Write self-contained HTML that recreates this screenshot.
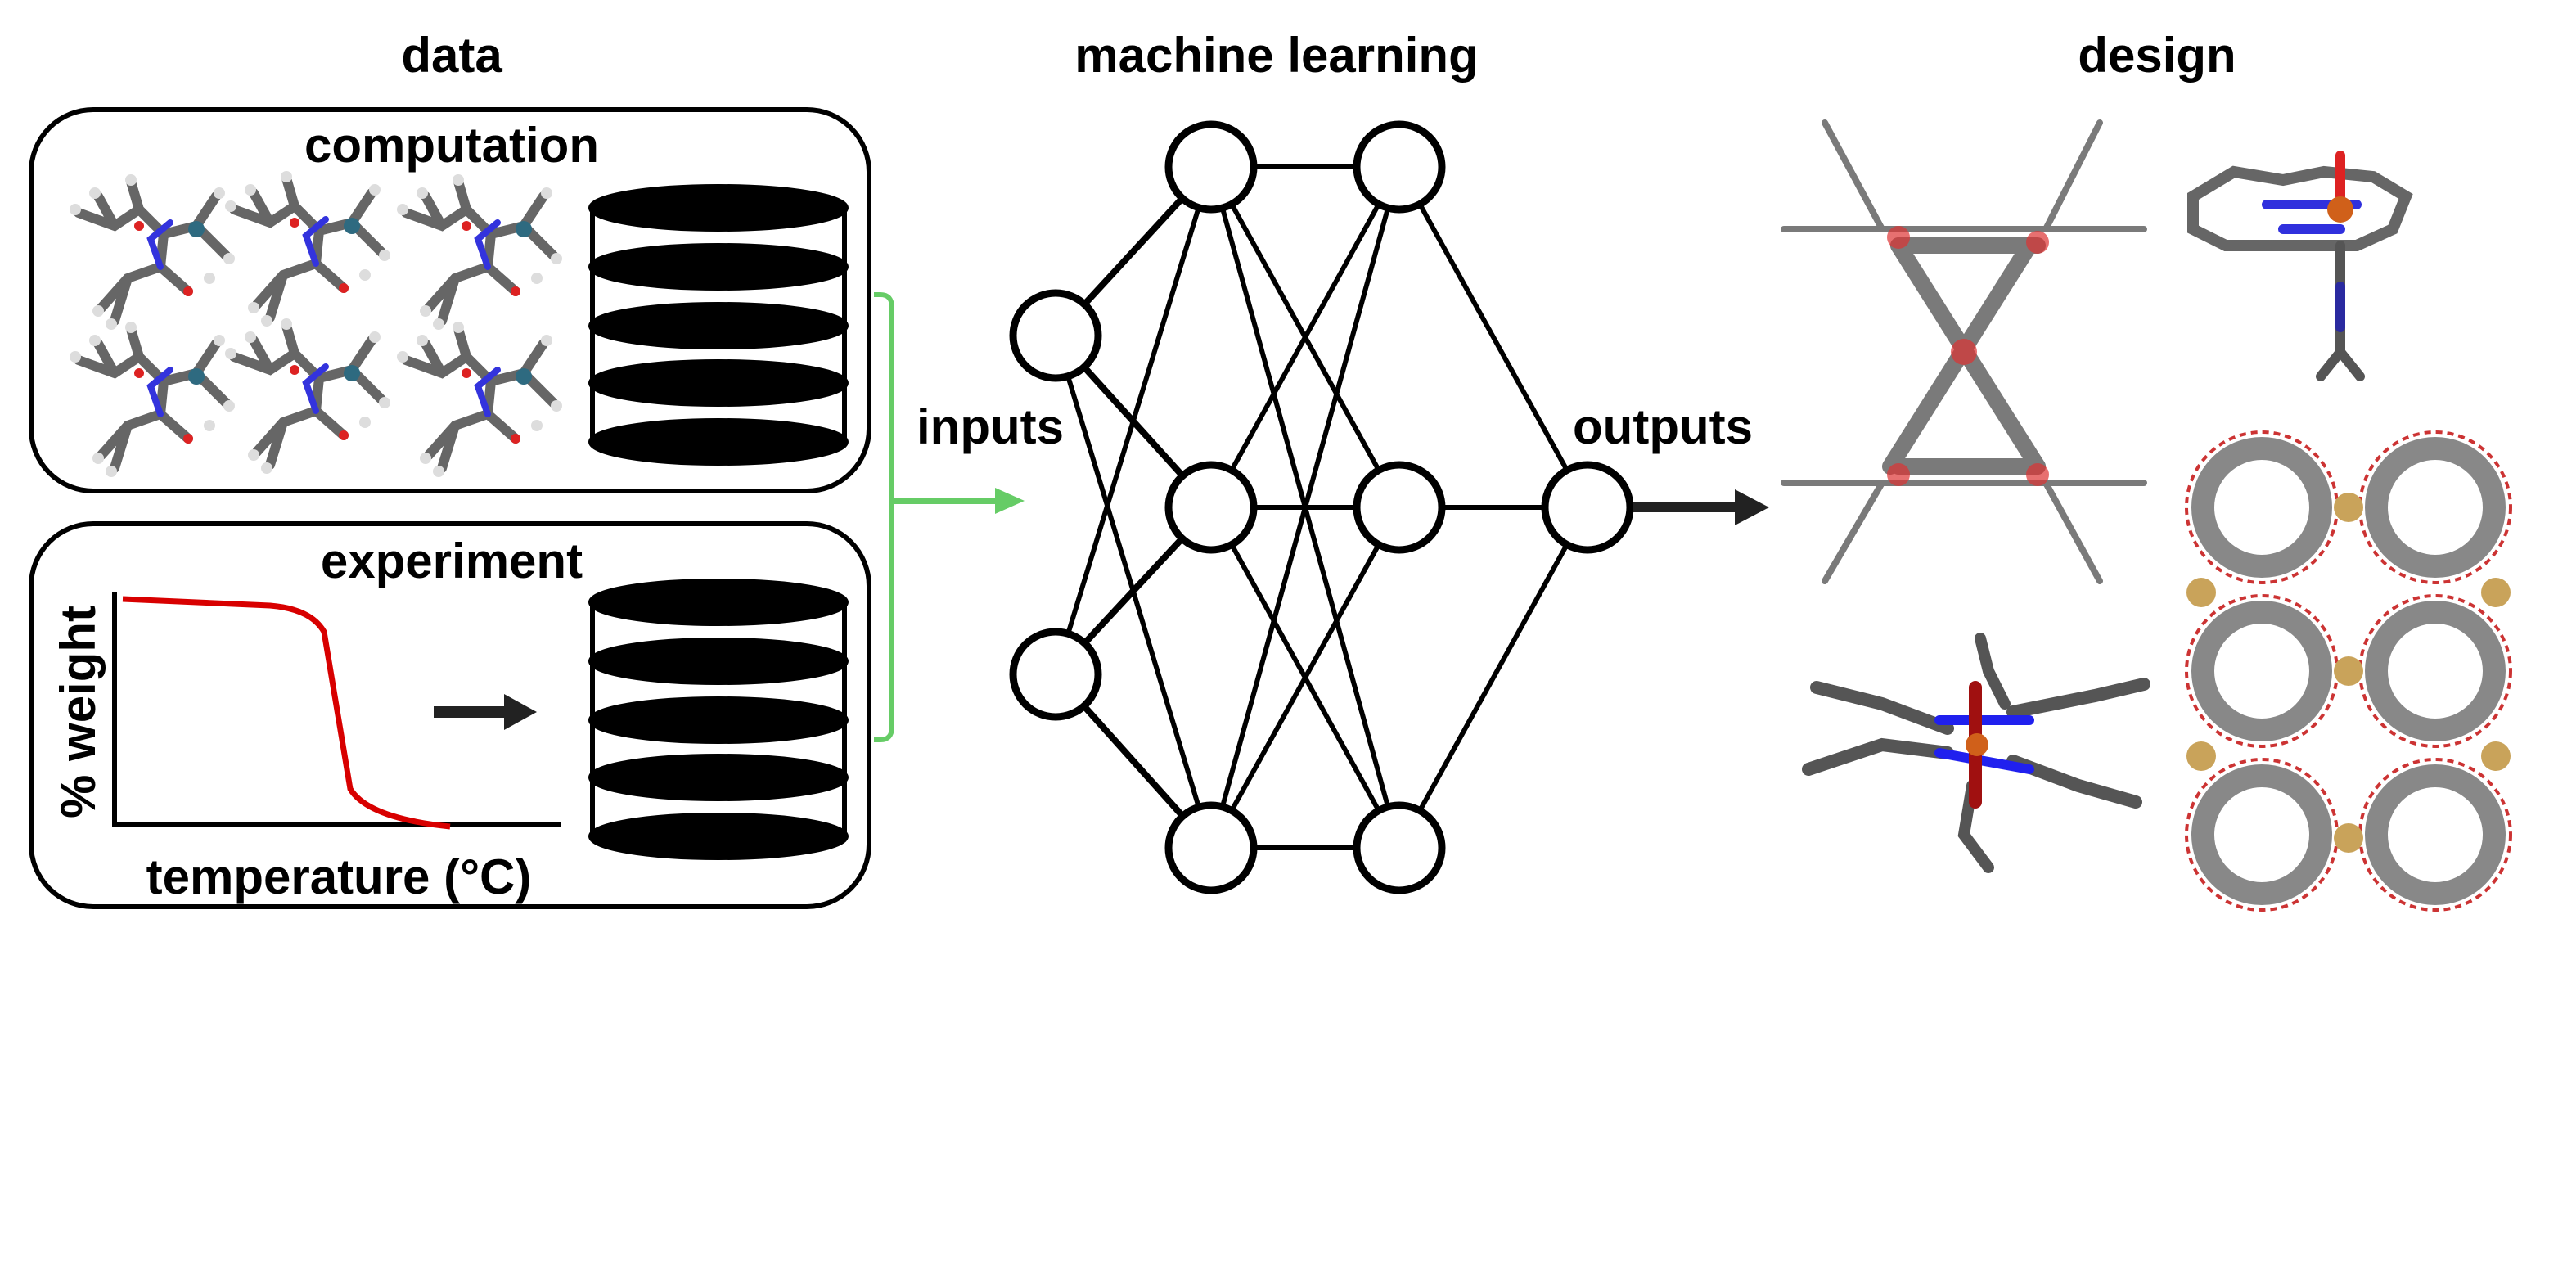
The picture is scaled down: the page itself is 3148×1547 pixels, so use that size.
<!DOCTYPE html>
<html><head><meta charset="utf-8"><style>html,body{margin:0;padding:0;background:#fff}svg{display:block}text{font-family:"Liberation Sans",sans-serif;font-weight:bold;fill:#000}</style></head><body>
<svg width="3148" height="1547" viewBox="0 0 1574 773.5" xmlns="http://www.w3.org/2000/svg">
<defs>
<g id="cyl" stroke="#000" stroke-width="3">
<line x1="362" y1="0" x2="362" y2="143"/><line x1="516" y1="0" x2="516" y2="143"/>
<ellipse cx="439" cy="0" rx="78" ry="13" fill="#000"/><ellipse cx="439" cy="36" rx="78" ry="13" fill="#000"/><ellipse cx="439" cy="72" rx="78" ry="13" fill="#000"/><ellipse cx="439" cy="107" rx="78" ry="13" fill="#000"/><ellipse cx="439" cy="143" rx="78" ry="13" fill="#000"/>
</g>
<g id="mol" stroke-linecap="round">
<path d="M8 22 L30 30 L45 20 L60 35 L80 30 L98 48 M45 20 L40 3 M60 35 L58 55 L75 70 M58 55 L38 62 L22 80 M80 30 L92 12 M30 30 L20 12 M38 62 L30 88" stroke="#666" stroke-width="6" fill="none"/>
<path d="M58 55 L52 38 L64 28" stroke="#3333dd" stroke-width="4" fill="none"/>
<circle cx="80" cy="32" r="5" fill="#2e6a80"/><circle cx="75" cy="70" r="3" fill="#d22"/><circle cx="45" cy="30" r="3" fill="#d22"/>
<g fill="#ddd"><circle cx="6" cy="20" r="3.5"/><circle cx="40" cy="2" r="3.5"/><circle cx="94" cy="10" r="3.5"/><circle cx="100" cy="50" r="3.5"/><circle cx="20" cy="82" r="3.5"/><circle cx="88" cy="62" r="3.5"/><circle cx="18" cy="10" r="3.5"/><circle cx="28" cy="90" r="3.5"/></g>
</g>
</defs>
<text x="276" y="44" font-size="30" text-anchor="middle">data</text>
<text x="780" y="44" font-size="30" text-anchor="middle">machine learning</text>
<text x="1318" y="44" font-size="30" text-anchor="middle">design</text>
<rect x="19" y="67" width="512" height="233" rx="38" fill="none" stroke="#000" stroke-width="3"/>
<text x="276" y="99" font-size="30" text-anchor="middle">computation</text>
<use href="#mol" x="40" y="108"/><use href="#mol" x="135" y="106"/><use href="#mol" x="240" y="108"/>
<use href="#mol" x="40" y="198"/><use href="#mol" x="135" y="196"/><use href="#mol" x="240" y="198"/>
<use href="#cyl" y="127"/>
<rect x="19" y="320" width="512" height="234" rx="38" fill="none" stroke="#000" stroke-width="3"/>
<text x="276" y="353" font-size="30" text-anchor="middle">experiment</text>
<use href="#cyl" y="368"/>
<path d="M70 362 L70 504 L343 504" stroke="#000" stroke-width="3" fill="none"/>
<path d="M75 366 L165 370 Q190 372 198 386 L214 482 Q225 500 275 505" stroke="#d80000" stroke-width="3.5" fill="none"/>
<text transform="translate(58 435) rotate(-90)" font-size="30" text-anchor="middle">% weight</text>
<text x="207" y="546" font-size="30" text-anchor="middle">temperature (°C)</text>
<path d="M265 435 L310 435" stroke="#222" stroke-width="7"/><path d="M308 424 L328 435 L308 446Z" fill="#222"/>
<path d="M534 180 L538 180 Q545 180 545 188 L545 444 Q545 452 538 452 L534 452" stroke="#6c6" stroke-width="3" fill="none"/>
<path d="M545 306 L610 306" stroke="#6c6" stroke-width="4"/><path d="M608 298 L626 306 L608 314Z" fill="#6c6"/>
<text x="605" y="271" font-size="30" text-anchor="middle">inputs</text>
<text x="1016" y="271" font-size="30" text-anchor="middle">outputs</text>
<g stroke="#000" stroke-width="3">
<line x1="645" y1="205" x2="740" y2="102" stroke-width="4"/><line x1="645" y1="205" x2="740" y2="310" stroke-width="4"/><line x1="645" y1="205" x2="740" y2="518"/>
<line x1="645" y1="412" x2="740" y2="102"/><line x1="645" y1="412" x2="740" y2="310" stroke-width="4"/><line x1="645" y1="412" x2="740" y2="518" stroke-width="4"/>
<line x1="740" y1="102" x2="855" y2="102"/><line x1="740" y1="102" x2="855" y2="310"/><line x1="740" y1="102" x2="855" y2="518"/>
<line x1="740" y1="310" x2="855" y2="102"/><line x1="740" y1="310" x2="855" y2="310"/><line x1="740" y1="310" x2="855" y2="518"/>
<line x1="740" y1="518" x2="855" y2="102"/><line x1="740" y1="518" x2="855" y2="310"/><line x1="740" y1="518" x2="855" y2="518"/>
<line x1="855" y1="102" x2="970" y2="310"/><line x1="855" y1="310" x2="970" y2="310"/><line x1="855" y1="518" x2="970" y2="310"/>
</g>
<g fill="#fff" stroke="#000" stroke-width="4.5">
<circle cx="645" cy="205" r="26"/><circle cx="645" cy="412" r="26"/>
<circle cx="740" cy="102" r="26"/><circle cx="740" cy="310" r="26"/><circle cx="740" cy="518" r="26"/>
<circle cx="855" cy="102" r="26"/><circle cx="855" cy="310" r="26"/><circle cx="855" cy="518" r="26"/>
<circle cx="970" cy="310" r="26"/>
</g>
<path d="M998 310 L1062 310" stroke="#222" stroke-width="6"/><path d="M1060 299 L1081 310 L1060 321Z" fill="#222"/>
<!-- MOF X -->
<g stroke="#7a7a7a" stroke-linecap="round" fill="none">
<path d="M1160 150 L1245 285 M1240 150 L1155 285" stroke-width="10"/>
<path d="M1090 140 L1310 140 M1090 295 L1310 295" stroke-width="4"/>
<path d="M1160 150 L1245 150 M1160 285 L1245 285" stroke-width="10"/>
<path d="M1115 75 L1150 140 M1283 75 L1250 140 M1115 355 L1150 295 M1283 355 L1250 295" stroke-width="4"/>
</g>
<g fill="#d33" opacity="0.7"><circle cx="1160" cy="145" r="7"/><circle cx="1245" cy="148" r="7"/><circle cx="1200" cy="215" r="8"/><circle cx="1160" cy="290" r="7"/><circle cx="1245" cy="290" r="7"/></g>
<!-- porphyrin -->
<g stroke-linecap="round" fill="none">
<path d="M1340 120 L1365 105 L1395 110 L1420 105 L1450 108 L1470 120 L1462 140 L1440 150 L1360 150 L1340 140 Z" stroke="#666" stroke-width="7"/>
<path d="M1385 125 L1440 125 M1395 140 L1430 140" stroke="#3030dd" stroke-width="6"/>
<path d="M1430 95 L1430 120" stroke="#d22" stroke-width="6"/>
<path d="M1430 150 L1430 215 L1418 230 M1430 215 L1442 230" stroke="#555" stroke-width="6"/>
<path d="M1430 175 L1430 200" stroke="#2a2aa0" stroke-width="6"/>
</g>
<circle cx="1430" cy="128" r="8" fill="#d0601a"/>
<!-- bottom-left complex -->
<g stroke-linecap="round" fill="none">
<path d="M1105 470 L1150 455 L1190 460 M1110 420 L1150 430 L1190 445 M1230 435 L1280 425 L1310 418 M1230 465 L1270 480 L1305 490" stroke="#555" stroke-width="8"/>
<path d="M1210 390 L1215 410 L1225 430 M1205 480 L1200 510 L1215 530" stroke="#555" stroke-width="7"/>
<path d="M1185 440 L1240 440 M1185 460 L1240 470" stroke="#2020ee" stroke-width="6"/>
<path d="M1207 420 L1207 490" stroke="#a01010" stroke-width="8"/>
</g>
<circle cx="1208" cy="455" r="7" fill="#d0601a"/>
<!-- bottom-right grid -->
<g fill="none" stroke="#888" stroke-width="14">
<circle cx="1382" cy="310" r="36"/><circle cx="1488" cy="310" r="36"/>
<circle cx="1382" cy="410" r="36"/><circle cx="1488" cy="410" r="36"/>
<circle cx="1382" cy="510" r="36"/><circle cx="1488" cy="510" r="36"/>
</g>
<g fill="none" stroke="#c33" stroke-width="2" stroke-dasharray="4 3">
<circle cx="1382" cy="310" r="46"/><circle cx="1488" cy="310" r="46"/>
<circle cx="1382" cy="410" r="46"/><circle cx="1488" cy="410" r="46"/>
<circle cx="1382" cy="510" r="46"/><circle cx="1488" cy="510" r="46"/>
</g>
<g fill="#c9a35a"><circle cx="1435" cy="310" r="9"/><circle cx="1345" cy="362" r="9"/><circle cx="1525" cy="362" r="9"/><circle cx="1435" cy="410" r="9"/><circle cx="1345" cy="462" r="9"/><circle cx="1525" cy="462" r="9"/><circle cx="1435" cy="512" r="9"/></g>
</svg>
</body></html>
